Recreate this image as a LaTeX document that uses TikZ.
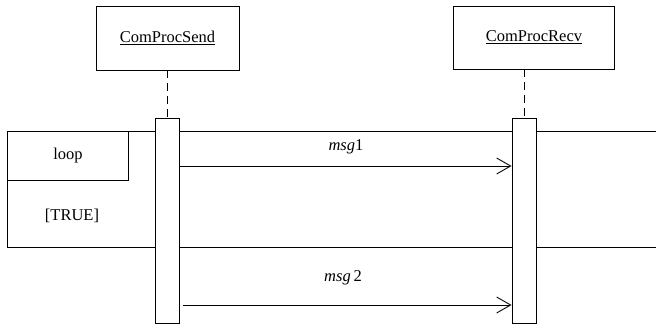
\documentclass[tikz,border=0pt]{standalone}
\usepackage{fontspec}
\setmainfont{Liberation Serif}
\usetikzlibrary{arrows.meta,calc}
\begin{document}
\begin{tikzpicture}[x=1pt,y=-1pt,line width=0.9pt,
  every node/.style={font=\fontsize{16.5}{19}\selectfont, inner sep=0pt},
  obj/.style={draw, fill=white},
  act/.style={draw, fill=white, minimum width=24pt, minimum height=205pt},
  life/.style={dash pattern=on 8pt off 5pt},
  msgarrow/.style={-{Straight Barb[length=14pt,width=16pt,line width=0.9pt]}}]
\useasboundingbox (0,0) rectangle (656,328);
% lifeline heads
\node[obj, minimum width=143pt, minimum height=64pt] (send) at (167.5,38) {\underline{ComProcSend}};
\node[obj, minimum width=161pt, minimum height=63pt] (recv) at (534,37.5) {\underline{ComProcRecv}};
% combined fragment frame
\draw (656,131) -- (7,131) -- (7,247) -- (656,247);
\node[draw, minimum width=121pt, minimum height=49pt, anchor=north west] (loopbox) at (7,131) {loop};
\node (guard) at (72,216) {[TRUE]};
% activations
\node[act] (sa) at (167,220.5) {};
\node[act] (ra) at (524,220.5) {};
% lifelines
\draw[life] (send.south -| sa.north) -- (sa.north);
\draw[life] (recv.south -| ra.north) -- (ra.north);
% messages
\draw[msgarrow] (sa.east |- 0,166) -- (ra.west |- 0,166);
\node (m1) at (346,147) {\textit{msg}1};
\draw[msgarrow] ($(sa.east |- 0,305)+(4,0)$) -- (ra.west |- 0,305);
\node (m2) at (343,278) {\textit{msg}\,2};
\end{tikzpicture}
\end{document}
